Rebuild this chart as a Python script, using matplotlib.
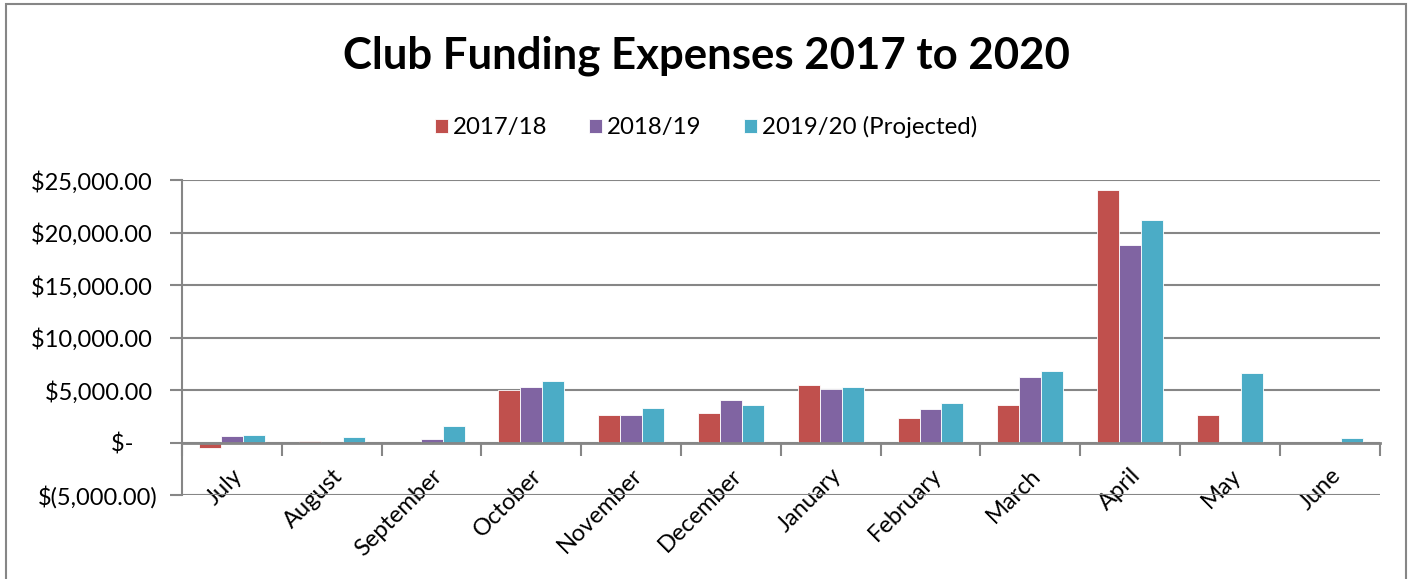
import numpy as np
import matplotlib.pyplot as plt
from matplotlib.patches import Rectangle
from matplotlib.ticker import FixedLocator, FixedFormatter

plt.rcParams['font.family'] = ['Lato', 'DejaVu Sans']

# monthly club funding expenses
months = ["July", "August", "September", "October", "November", "December",
          "January", "February", "March", "April", "May", "June"]
fy_2017_18 = [-560, 190, 0, 5030, 2660, 2850, 5480, 2310, 3590, 24080, 2600, 0]
fy_2018_19 = [640, 0, 320, 5260, 2600, 4100, 5060, 3200, 6250, 18770, 0, 0]
fy_2019_20 = [700, 510, 1560, 5870, 3300, 3560, 5290, 3750, 6830, 21160, 6610, 445]
series_names = ["2017/18", "2018/19", "2019/20 (Projected)"]
colors = ["#C0504D", "#8064A2", "#4BACC6"]

y_ticks = [-5000, 0, 5000, 10000, 15000, 20000, 25000]
y_labels = ["$(5,000.00)", "$-    ", "$5,000.00 ", "$10,000.00 ", "$15,000.00 ",
            "$20,000.00 ", "$25,000.00 "]

fig = plt.figure(figsize=(14.12, 5.79), dpi=100)
ax = fig.add_axes([0.129, 0.145, 0.848, 0.544])

x = np.arange(len(months))
w = 0.22
for i, (vals, name, c) in enumerate(zip([fy_2017_18, fy_2018_19, fy_2019_20], series_names, colors)):
    ax.bar(x + (i - 1) * w, vals, width=w, color=c, label=name,
           edgecolor="white", linewidth=0.6, zorder=3)

ax.set_xlim(-0.5, len(months) - 0.5)
ax.set_ylim(-5000, 25000)

# y axis
ax.yaxis.set_major_locator(FixedLocator(y_ticks))
ax.yaxis.set_major_formatter(FixedFormatter(y_labels))
ax.grid(axis="y", color="#868686", linewidth=1.5, zorder=0)
ax.tick_params(axis="y", length=9, width=1.5, color="#868686", labelsize=17, pad=8.5)

# category axis crosses at zero, ticks between categories
ax.spines["bottom"].set_position(("data", 0))
ax.spines["bottom"].set_color("#868686")
ax.spines["bottom"].set_linewidth(2)
ax.spines["bottom"].set_zorder(4)
ax.set_xticks(x)
ax.set_xticklabels(months, rotation=45, ha="right", rotation_mode="anchor")
ax.set_xticks(np.arange(len(months) + 1) - 0.5, minor=True)
ax.tick_params(axis="x", which="major", length=0, labelsize=17, pad=16)
ax.tick_params(axis="x", which="minor", length=9, width=1.5, color="#868686", direction="out")
ax.spines["left"].set_color("#868686")
ax.spines["left"].set_linewidth(1.5)
ax.spines["top"].set_visible(False)
ax.spines["right"].set_visible(False)

fig.text(0.5, 0.903, "Club Funding Expenses 2017 to 2020", ha="center", va="center",
         fontsize=31.5, fontweight="bold")
fig.legend(loc="center", bbox_to_anchor=(0.5, 0.78), ncol=3, frameon=False,
           fontsize=17.3, handlelength=0.54, handleheight=0.54, columnspacing=1.75,
           handletextpad=0.2)

fig.patches.append(Rectangle((0.004, -0.05), 0.992, 1.043, transform=fig.transFigure,
                             fill=False, edgecolor="#868686", linewidth=1.5))

fig.savefig("out.png", dpi=100)
